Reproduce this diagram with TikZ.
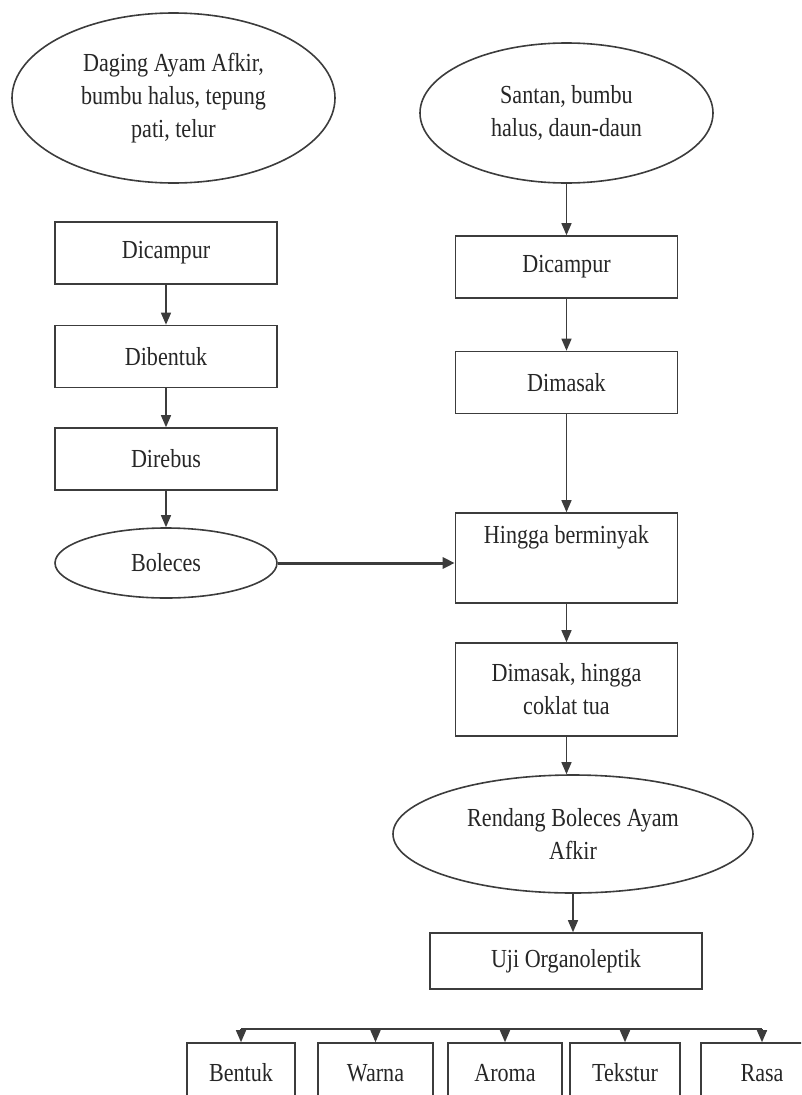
\documentclass[tikz,border=0pt]{standalone}
\usepackage{fontspec}
\setmainfont{Liberation Serif}[FakeStretch=0.85]
\usepackage{xcolor}
\usepackage{tikz}
\usetikzlibrary{shapes.geometric,arrows.meta}
\definecolor{ink}{HTML}{3C3C3C}
\definecolor{txt}{HTML}{262626}
\tikzset{
  base/.style={draw=ink, line width=1.6pt},
  proc/.style={base, rectangle, minimum width=222pt, minimum height=62pt, inner sep=0pt,
    text=txt, align=center, font=\fontsize{26}{33}\selectfont},
  bahan/.style={base, ellipse, inner sep=0pt, text=txt, align=center,
    font=\fontsize{26}{33}\selectfont},
  aspek/.style={proc, minimum height=60pt},
  alur/.style={draw=ink, line width=1.4pt, -{Triangle[length=12pt,width=10pt]}},
  alurtebal/.style={draw=ink, line width=3pt, -{Triangle[length=12pt,width=11pt]}},
}

\begin{document}
\begin{tikzpicture}[x=1pt,y=-1pt]
  \useasboundingbox (0,0) rectangle (801,1095);
  \clip (0,0) rectangle (801,1095);
  \coordinate (bar) at (0,1029);

  % kolom kiri
  \node[bahan, minimum width=323pt, minimum height=170pt] (bahanA) at (173.5,98)
    {Daging Ayam Afkir,\\bumbu halus, tepung\\pati, telur};
  \node[proc] (campurA) at (166,253) {Dicampur};
  \node[proc] (bentuk) at (166,356.5) {Dibentuk};
  \node[proc] (rebus) at (166,459) {Direbus};
  \node[bahan, minimum width=222pt, minimum height=70pt] (boleces) at (166,563) {Boleces};

  % kolom kanan
  \node[bahan, minimum width=293pt, minimum height=140pt] (bahanB) at (566.5,113)
    {Santan, bumbu\\halus, daun-daun};
  \node[proc] (campurB) at (566.5,267) {Dicampur};
  \node[proc] (masak) at (566.5,382.5) {Dimasak};
  \node[proc, minimum height=90pt, text height=22pt, text depth=52pt] (minyak) at (566.5,558)
    {Hingga berminyak};
  \node[proc, minimum height=93pt] (coklat) at (566.5,689.5) {Dimasak, hingga\\coklat tua};
  \node[bahan, minimum width=360pt, minimum height=118pt] (rendang) at (573,834)
    {Rendang Boleces Ayam\\Afkir};
  \node[proc, minimum width=272pt, minimum height=56pt] (uji) at (566,961) {Uji Organoleptik};

  % aspek uji
  \node[aspek, minimum width=108pt] (bentukU) at (241,1073) {Bentuk};
  \node[aspek, minimum width=115pt] (warnaU) at (375.5,1073) {Warna};
  \node[aspek, minimum width=114pt] (aromaU) at (505,1073) {Aroma};
  \node[aspek, minimum width=110pt] (teksturU) at (625,1073) {Tekstur};
  \node[aspek, minimum width=122pt] (rasaU) at (762,1073) {Rasa};

  \draw[alur] (campurA) -- (bentuk);
  \draw[alur] (bentuk) -- (rebus);
  \draw[alur] (rebus) -- (boleces);
  \draw[alurtebal] (boleces.east) -- (boleces.east -| minyak.west);

  \draw[alur] (bahanB) -- (campurB);
  \draw[alur] (campurB) -- (masak);
  \draw[alur] (masak) -- (minyak);
  \draw[alur] (minyak) -- (coklat);
  \draw[alur] (coklat.south) -- (coklat.south |- rendang.north);
  \draw[alur] (rendang.south) -- (rendang.south |- uji.north);

  \draw[base] (bentukU.north |- bar) -- (rasaU.north |- bar);
  \foreach \a in {bentukU,warnaU,aromaU,teksturU,rasaU}
    \draw[alur] (\a.north |- bar) -- (\a.north);
\end{tikzpicture}
\end{document}
